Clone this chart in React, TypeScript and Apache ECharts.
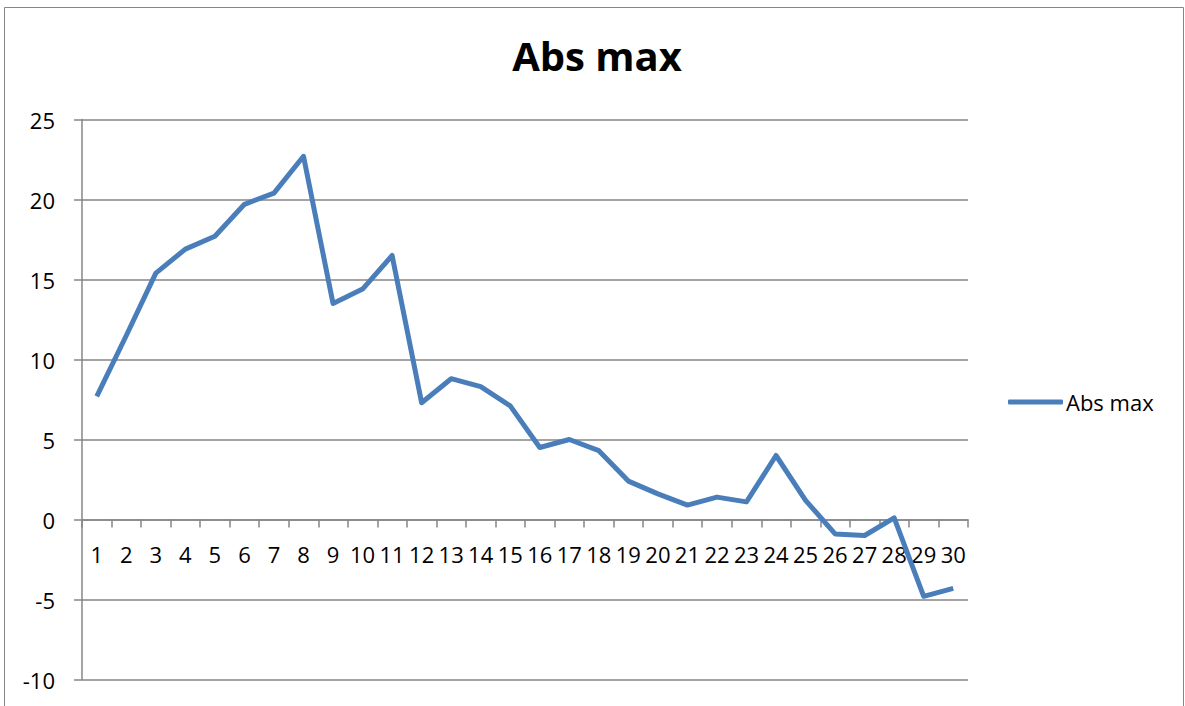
import React, { useEffect, useRef } from "react";
import * as echarts from "echarts";

const categories = Array.from({ length: 30 }, (_, i) => String(i + 1));
const absMax = [
  7.7, 11.5, 15.4, 16.9, 17.7, 19.7, 20.4, 22.7, 13.5, 14.4,
  16.5, 7.3, 8.8, 8.3, 7.1, 4.5, 5.0, 4.3, 2.4, 1.6,
  0.9, 1.4, 1.1, 4.0, 1.2, -0.9, -1.0, 0.1, -4.8, -4.3,
];
const seriesName = "Abs max";
const titleText = "Abs max";
const yMin = -10;
const yMax = 25;
const yStep = 5;

export default function App() {
  const ref = useRef<HTMLDivElement>(null);
  useEffect(() => {
    if (!ref.current) return;
    const chart = echarts.init(ref.current, null, { renderer: "svg" });
    const font = "'Open Sans', 'Liberation Sans', sans-serif";
    const gridHeight = 560;
    const zeroOffset = -((0 - yMin) / (yMax - yMin)) * gridHeight;
    chart.setOption({
      animation: false,
      backgroundColor: "#ffffff",
      title: {
        text: titleText,
        left: 592,
        textAlign: "center",
        top: 30,
        textStyle: { fontFamily: font, fontWeight: "bold", fontSize: 40, color: "#000" },
      },
      graphic: [
        {
          type: "rect",
          shape: { x: 4.5, y: 7.5, width: 1179, height: 730 },
          style: { fill: "none", stroke: "#868686", lineWidth: 1 },
          silent: true,
        },
      ],
      legend: {
        data: [seriesName],
        left: 1003,
        top: 386,
        itemWidth: 55,
        itemHeight: 5,
        itemGap: 4,
        icon: "roundRect",
        textStyle: { fontFamily: font, fontSize: 22, color: "#000", padding: [0, 0, 0, -2] },
      },
      grid: { left: 82, top: 119.5, width: 886, height: gridHeight, containLabel: false, outerBoundsMode: "none" },
      xAxis: {
        type: "category",
        data: categories,
        boundaryGap: true,
        offset: zeroOffset,
        axisLine: { onZero: false, lineStyle: { color: "#868686", width: 1.5 } },
        axisTick: { show: true, alignWithLabel: false, length: 8, lineStyle: { color: "#868686", width: 1.5 } },
        axisLabel: {
          interval: 0,
          margin: 23,
          fontFamily: font,
          fontSize: 22,
          color: "#000",
          hideOverlap: false,
        },
        splitLine: { show: false },
      },
      yAxis: {
        type: "value",
        min: yMin,
        max: yMax,
        interval: yStep,
        axisLine: { show: true, lineStyle: { color: "#868686", width: 1.5 } },
        axisTick: { show: true, length: 8, lineStyle: { color: "#868686", width: 1.5 } },
        axisLabel: { margin: 27, fontFamily: font, fontSize: 22, color: "#000" },
        splitLine: { show: true, lineStyle: { color: "#868686", width: 1.5 } },
      },
      series: [
        {
          name: seriesName,
          type: "line",
          data: absMax,
          symbol: "none",
          lineStyle: { color: "#4a7ebb", width: 5, join: "round" },
          itemStyle: { color: "#4a7ebb" },
        },
      ],
    });
    return () => chart.dispose();
  }, []);
  return (
    <div
      ref={ref}
      style={{ position: "fixed", left: 0, top: 0, width: 1185, height: 706, background: "#fff" }}
    />
  );
}
